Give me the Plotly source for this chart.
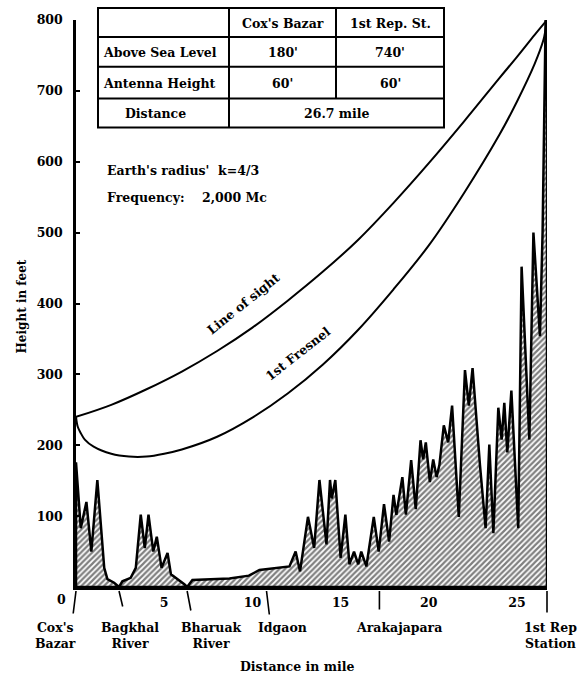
import plotly.graph_objects as go

# ---------------- data ----------------
# Terrain profile: distance in miles, height in feet
terrain_mile = [0, 0.27, 0.59, 0.87, 1.21, 1.6, 1.78, 2.16, 2.44, 2.63, 3.1, 3.39,
                3.67, 3.9, 4.11, 4.38, 4.58, 4.85, 5.19, 5.38, 5.66, 6.14, 6.3, 6.6,
                8.7, 9.8, 10.4, 10.8, 12.1, 12.45, 12.7, 13.15, 13.5, 13.8, 14.2,
                14.4, 14.5, 14.7, 15.0, 15.27, 15.5, 15.76, 16.0, 16.17, 16.46, 16.88,
                17.16, 17.46, 17.75, 18.0, 18.16, 18.5, 18.7, 19.0, 19.26, 19.53,
                19.68, 19.83, 20.06, 20.25, 20.44, 20.6, 20.85, 21.1, 21.32, 21.7,
                22.05, 22.27, 22.48, 22.9, 23.22, 23.43, 23.66, 23.94, 24.13, 24.28,
                24.45, 24.68, 25.07, 25.26, 25.7, 25.93, 26.3, 26.45, 26.62, 26.7]
terrain_ft = [176, 83, 120, 50, 151, 27, 11, 6, 0, 8, 13, 27,
              102, 55, 102, 50, 71, 27, 48, 18, 13, 4, 0, 10,
              12, 16, 24, 25, 29, 50, 22, 99, 55, 151, 60,
              151, 125, 151, 41, 102, 32, 50, 32, 50, 29, 99,
              50, 117, 64, 130, 102, 155, 102, 179, 110, 207,
              180, 204, 148, 180, 155, 172, 228, 204, 256, 99,
              306, 256, 309, 172, 83, 201, 76, 253, 208, 260,
              190, 277, 83, 452, 208, 500, 354, 500, 800, 800]

# Line of sight (k = 4/3)
los_mile = [0, 2, 4, 6, 8, 10, 12, 14, 16, 18, 20, 22, 24, 25, 26, 26.7]
los_ft = [240, 257, 279, 304, 333, 366, 404, 445, 490, 542, 598, 657, 718, 748, 779, 800]

# 1st Fresnel zone lower boundary
fres_mile = [0, 0.1, 0.25, 0.5, 1, 2, 3, 4, 5, 6, 8, 10, 12, 14, 16, 18, 20, 22,
             24, 25, 26, 26.5, 26.6, 26.7]
fres_ft = [240, 226, 218, 208, 198, 188, 184, 184, 188, 194, 212, 239, 273, 314,
           363, 420, 482, 556, 638, 685, 738, 772, 784, 800]

y_ticks = [100, 200, 300, 400, 500, 600, 700, 800]
x_ticks = [5, 10, 15, 20, 25]

place_names = ["Cox's<br>Bazar", "Bagkhal<br>River", "Bharuak<br>River", "Idgaon",
               "Arakajapara", "1st Rep<br>Station"]
place_miles = [0, 2.44, 6.3, 10.8, 17.2, 26.7]

table_header = ["", "Cox's Bazar", "1st Rep. St."]
table_rows = [["Above Sea Level", "180'", "740'"],
              ["Antenna Height", "60'", "60'"]]
distance_row = ["Distance", "26.7 mile"]

# ---------------- styling / layout helpers ----------------
FONT = "DejaVu Serif"
W, H = 588, 682
L, R, T, B = 76, 41, 17, 95
PW, PH = W - L - R, H - T - B


def px(xp):
    return (xp - L) / PW


def py(yp):
    return (H - B - yp) / PH


def bold(s):
    return "<b>" + s + "</b>" if s else s


def txt(x, y, s, size=12.5, xanchor="center", yanchor="middle", xref="paper",
        yref="paper", **kw):
    d = dict(x=x, y=y, xref=xref, yref=yref, text=bold(s), showarrow=False,
             xanchor=xanchor, yanchor=yanchor,
             font=dict(family=FONT, size=size, color="black"))
    d.update(kw)
    return d


fig = go.Figure()

# terrain polygon
fig.add_trace(go.Scatter(
    x=[0] + terrain_mile + [terrain_mile[-1], 0],
    y=[0] + terrain_ft + [0, 0],
    mode="lines", fill="toself",
    line=dict(color="black", width=2.5),
    fillcolor="white",
    fillpattern=dict(shape="/", fgcolor="black", bgcolor="white", size=4, solidity=0.55),
    hoverinfo="skip", showlegend=False))

fig.add_trace(go.Scatter(x=los_mile, y=los_ft, mode="lines",
                         line=dict(color="black", width=2, shape="spline", smoothing=1),
                         showlegend=False))
fig.add_trace(go.Scatter(x=fres_mile, y=fres_ft, mode="lines",
                         line=dict(color="black", width=2, shape="spline", smoothing=1),
                         showlegend=False))

ann = []
shapes = []

# curve labels
ann.append(txt(9.5, 400, "Line of sight", xref="x", yref="y", textangle=-39))
ann.append(txt(12.6, 329, "1st Fresnel", xref="x", yref="y", textangle=-38))

# notes
ann.append(txt(px(105), py(168), "Earth's radius'\u00a0 k=4/3", xanchor="left"))
ann.append(txt(px(105), py(195), "Frequency:\u00a0\u00a0\u00a0\u00a02,000 Mc", xanchor="left"))

# "0" label at the origin corner
ann.append(txt(0, py(600), "0", xref="x", xshift=-15))

# axis titles
ann.append(txt(px(22), py(305), "Height in feet", size=12, textangle=-90))
ann.append(txt(px(297), py(667), "Distance in mile"))

# place pointers and names
ptr = [(-3, 24), (4, 17), (4, 21), (3, 25), (0, 20), (0, 23)]
name_shift = [-21, 11, 24, 16, 20, 3]
for m, name, (dx, dy), sh in zip(place_miles, place_names, ptr, name_shift):
    ann.append(dict(x=m, y=py(591), xref="x", yref="paper", text="", showarrow=True,
                    ax=dx, ay=dy, arrowhead=0, arrowwidth=1.6, arrowcolor="black",
                    standoff=0, startstandoff=0))
    ann.append(txt(m, py(618), name, xref="x", yanchor="top", xshift=sh, align="center"))

# table
tL, tC1, tC2, tR = 98, 229, 336, 444
tT, r1, r2, r3, tB = 5, 34, 64, 96, 125
lw = 2


def seg(x0, y0, x1, y1):
    shapes.append(dict(type="line", xref="paper", yref="paper",
                       x0=px(x0), y0=py(y0), x1=px(x1), y1=py(y1),
                       line=dict(color="black", width=lw)))


shapes.append(dict(type="rect", xref="paper", yref="paper",
                   x0=px(tL), y0=py(tB), x1=px(tR), y1=py(tT),
                   line=dict(color="black", width=lw), fillcolor="white", layer="above"))
for yy in (r1, r2, r3):
    seg(tL, yy, tR, yy)
seg(tC1, tT, tC1, tB)
seg(tC2, tT, tC2, r3)

row_y = [21, 50, 81]
col_cx = [(tL + tC1) / 2, (tC1 + tC2) / 2, (tC2 + tR) / 2]
rows = [table_header] + table_rows
for ry, row in zip(row_y, rows):
    for ci, s in enumerate(row):
        if not s:
            continue
        if ci == 0:
            ann.append(txt(px(tL + 3), py(ry), s, xanchor="left"))
        else:
            ann.append(txt(px(col_cx[ci]), py(ry), s))
ann.append(txt(px(col_cx[0] - 8), py(111), distance_row[0]))
ann.append(txt(px((tC1 + tR) / 2), py(111), distance_row[1]))

fig.update_layout(
    width=W, height=H, autosize=False,
    margin=dict(l=L, r=R, t=T, b=B, pad=0),
    paper_bgcolor="white", plot_bgcolor="white",
    font=dict(family=FONT, color="black"),
    showlegend=False,
    annotations=ann, shapes=shapes,
    xaxis=dict(range=[0, 26.7], showgrid=False, zeroline=False, showline=True,
               linecolor="black", linewidth=2.5, ticks="", tickvals=x_ticks,
               ticktext=[bold(str(v)) for v in x_ticks], ticklabelstandoff=2,
               tickfont=dict(family=FONT, size=12.5, color="black")),
    yaxis=dict(range=[0, 800], showgrid=False, zeroline=False, showline=True,
               linecolor="black", linewidth=2.5, ticks="inside", ticklen=4,
               tickwidth=1.5, tickcolor="black", tickvals=y_ticks,
               ticktext=[bold(str(v)) for v in y_ticks], ticklabelstandoff=8,
               tickfont=dict(family=FONT, size=12.5, color="black")),
)

fig.write_html("out.html")
